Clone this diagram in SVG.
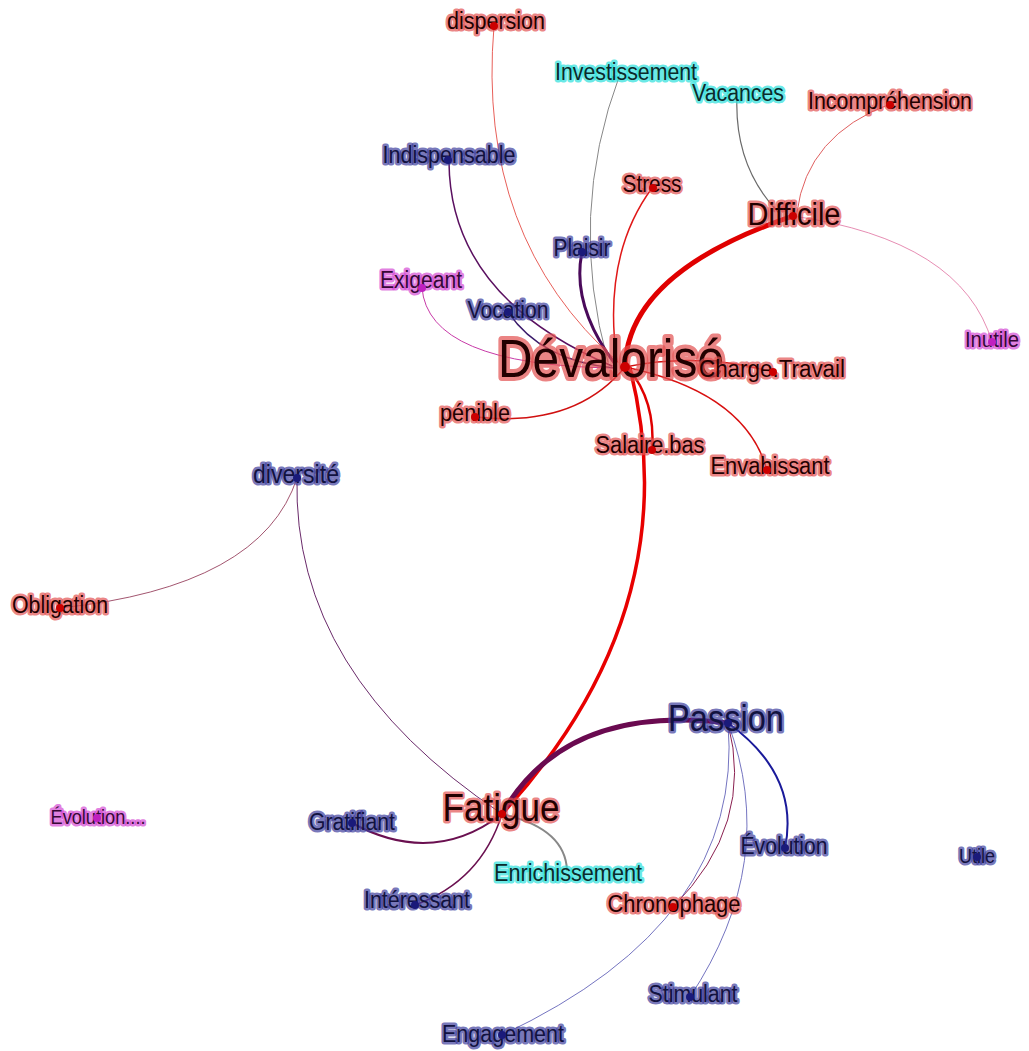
<svg xmlns="http://www.w3.org/2000/svg" width="1029" height="1051" viewBox="0 0 1029 1051">
<style>
.e{fill:none;stroke-linecap:round}
text{font-family:"Liberation Sans",Arial,sans-serif;text-anchor:middle;paint-order:stroke;stroke-linejoin:round;stroke-width:5px;stroke-opacity:0.7}
.r text{fill:#220000;stroke:#e25050}
.b text{fill:#121240;stroke:#3c3c9c}
.c text{fill:#0a2a2a;stroke:#28e0dc}
.m text{fill:#360836;stroke:#d448d4}
.r circle{fill:#cc0000}
.b circle{fill:#1a1a7a}
.c circle{fill:#30c8c8}
.m circle{fill:#c020c0}
.s{font-size:23px}
</style>
<rect width="1029" height="1051" fill="#ffffff"/>
<g id="edges">
<path class="e" d="M494,26 Q476,237 618,362" stroke="#e8605a" stroke-width="1"/>
<path class="e" d="M620,74 Q567,215 608,362" stroke="#888888" stroke-width="1"/>
<path class="e" d="M449,162 Q450,297 612,366" stroke="#5a1060" stroke-width="1.5"/>
<path class="e" d="M652,188 Q602,256 617,362" stroke="#e01818" stroke-width="1.5"/>
<path class="e" d="M582,252 Q571,305 615,364" stroke="#4a0a5a" stroke-width="3"/>
<path class="e" d="M422,288 Q428,365 612,368" stroke="#c83aa8" stroke-width="1"/>
<path class="e" d="M508,312 Q541,361 614,368" stroke="#3a1a6a" stroke-width="1.5"/>
<path class="e" d="M625,367 Q628,272 793,216" stroke="#e00000" stroke-width="5"/>
<path class="e" d="M625,367 Q700,352 773,372" stroke="#d01010" stroke-width="1.5"/>
<path class="e" d="M625,367 Q575,428 476,417" stroke="#d01010" stroke-width="1.5"/>
<path class="e" d="M628,368 Q656,401 652,450" stroke="#e00000" stroke-width="2.5"/>
<path class="e" d="M625,367 Q745,392 767,470" stroke="#d81010" stroke-width="1.5"/>
<path class="e" d="M630,368 Q690,609 502,814" stroke="#e80000" stroke-width="3.5"/>
<path class="e" d="M737,96 Q734,166 778,212" stroke="#6a6a6a" stroke-width="1.2"/>
<path class="e" d="M890,104 Q807,135 797,212" stroke="#e06060" stroke-width="1"/>
<path class="e" d="M793,216 Q962,240 992,342" stroke="#e070a0" stroke-width="0.8"/>
<path class="e" d="M297,478 Q262,587 60,608" stroke="#8a2a4a" stroke-width="0.8"/>
<path class="e" d="M297,478 Q292,674 502,814" stroke="#6a2a6a" stroke-width="1"/>
<path class="e" d="M502,814 Q565,703 728,723" stroke="#6a0a50" stroke-width="5"/>
<path class="e" d="M352,823 Q433,867 502,814" stroke="#6a1050" stroke-width="2"/>
<path class="e" d="M415,905 Q481,881 502,814" stroke="#6a1050" stroke-width="1.5"/>
<path class="e" d="M502,814 Q565,828 567,870" stroke="#888888" stroke-width="2"/>
<path class="e" d="M728,723 Q800,775 785,848" stroke="#1a1a9a" stroke-width="2"/>
<path class="e" d="M728,723 Q755,825 673,907" stroke="#8a2050" stroke-width="1"/>
<path class="e" d="M728,723 Q780,861 690,997" stroke="#5050b0" stroke-width="0.8"/>
<path class="e" d="M728,723 Q745,921 502,1035" stroke="#5050b0" stroke-width="0.8"/>
</g>
<g id="n-devalorise" class="r"><text x="611" y="377" font-size="54" textLength="226" lengthAdjust="spacingAndGlyphs" style="stroke-width:8px">Dévalorisé</text><circle cx="625" cy="367" r="5"/></g>
<g id="n-dispersion" class="r"><text class="s" x="496" y="29" textLength="98" lengthAdjust="spacingAndGlyphs">dispersion</text><circle cx="494" cy="26" r="4"/></g>
<g id="n-investissement" class="c"><text class="s" x="626" y="80" textLength="142" lengthAdjust="spacingAndGlyphs">Investissement</text></g>
<g id="n-vacances" class="c"><text class="s" x="738" y="101" textLength="92" lengthAdjust="spacingAndGlyphs">Vacances</text></g>
<g id="n-incomprehension" class="r"><text class="s" x="890" y="109" textLength="164" lengthAdjust="spacingAndGlyphs">Incompréhension</text><circle cx="890" cy="105" r="4"/></g>
<g id="n-indispensable" class="b"><text class="s" x="449" y="163" textLength="133" lengthAdjust="spacingAndGlyphs">Indispensable</text><circle cx="448" cy="160" r="4"/></g>
<g id="n-stress" class="r"><text class="s" x="652" y="192" textLength="59" lengthAdjust="spacingAndGlyphs">Stress</text><circle cx="653" cy="188" r="4"/></g>
<g id="n-difficile" class="r"><text x="794" y="225" font-size="31" textLength="93" lengthAdjust="spacingAndGlyphs">Difficile</text><circle cx="793" cy="216" r="4"/></g>
<g id="n-plaisir" class="b"><text class="s" x="582" y="256" textLength="57" lengthAdjust="spacingAndGlyphs">Plaisir</text><circle cx="582" cy="252" r="4"/></g>
<g id="n-exigeant" class="m"><text class="s" x="421" y="288" textLength="82" lengthAdjust="spacingAndGlyphs">Exigeant</text><circle cx="422" cy="288" r="4"/></g>
<g id="n-vocation" class="b"><text class="s" x="508" y="318" textLength="81" lengthAdjust="spacingAndGlyphs">Vocation</text><circle cx="508" cy="312" r="4"/></g>
<g id="n-inutile" class="m"><text x="992" y="347" font-size="22" textLength="54" lengthAdjust="spacingAndGlyphs">Inutile</text><circle cx="992" cy="342" r="4"/></g>
<g id="n-charge" class="r"><text class="s" x="772" y="377" textLength="146" lengthAdjust="spacingAndGlyphs">Charge.Travail</text><circle cx="773" cy="372" r="4"/></g>
<g id="n-penible" class="r"><text class="s" x="475" y="421" textLength="70" lengthAdjust="spacingAndGlyphs">pénible</text><circle cx="475" cy="417" r="4"/></g>
<g id="n-salaire" class="r"><text class="s" x="650" y="453" textLength="109" lengthAdjust="spacingAndGlyphs">Salaire.bas</text><circle cx="652" cy="450" r="4"/></g>
<g id="n-envahissant" class="r"><text class="s" x="770" y="474" textLength="119" lengthAdjust="spacingAndGlyphs">Envahissant</text><circle cx="767" cy="470" r="4"/></g>
<g id="n-diversite" class="b"><text x="296" y="483" font-size="25" textLength="86" lengthAdjust="spacingAndGlyphs">diversité</text><circle cx="297" cy="478" r="4"/></g>
<g id="n-obligation" class="r"><text class="s" x="60" y="613" textLength="96" lengthAdjust="spacingAndGlyphs">Obligation</text><circle cx="60" cy="608" r="4"/></g>
<g id="n-passion" class="b"><text x="726" y="731" font-size="36" textLength="116" lengthAdjust="spacingAndGlyphs">Passion</text><circle cx="728" cy="723" r="4"/></g>
<g id="n-fatigue" class="r"><text x="501" y="821" font-size="39" textLength="117" lengthAdjust="spacingAndGlyphs">Fatigue</text><circle cx="502" cy="814" r="4"/></g>
<g id="n-evolution-dots" class="m"><text x="98" y="824" font-size="20" textLength="95" lengthAdjust="spacingAndGlyphs">Évolution....</text><circle cx="97" cy="818" r="4"/></g>
<g id="n-gratifiant" class="b"><text class="s" x="352" y="830" textLength="86" lengthAdjust="spacingAndGlyphs">Gratifiant</text><circle cx="352" cy="823" r="4"/></g>
<g id="n-evolution" class="b"><text class="s" x="784" y="854" textLength="87" lengthAdjust="spacingAndGlyphs">Évolution</text><circle cx="785" cy="848" r="4"/></g>
<g id="n-utile" class="b"><text x="977" y="863" font-size="20" textLength="36" lengthAdjust="spacingAndGlyphs">Utile</text><circle cx="977" cy="857" r="4"/></g>
<g id="n-enrichissement" class="c"><text class="s" x="568" y="881" textLength="148" lengthAdjust="spacingAndGlyphs">Enrichissement</text></g>
<g id="n-interessant" class="b"><text class="s" x="417" y="908" textLength="106" lengthAdjust="spacingAndGlyphs">Intéressant</text><circle cx="415" cy="905" r="4"/></g>
<g id="n-chronophage" class="r"><text class="s" x="674" y="912" textLength="133" lengthAdjust="spacingAndGlyphs">Chronophage</text><circle cx="673" cy="907" r="4"/></g>
<g id="n-stimulant" class="b"><text class="s" x="693" y="1002" textLength="89" lengthAdjust="spacingAndGlyphs">Stimulant</text><circle cx="690" cy="997" r="4"/></g>
<g id="n-engagement" class="b"><text class="s" x="503" y="1042" textLength="122" lengthAdjust="spacingAndGlyphs">Engagement</text><circle cx="502" cy="1035" r="4"/></g>
</svg>
